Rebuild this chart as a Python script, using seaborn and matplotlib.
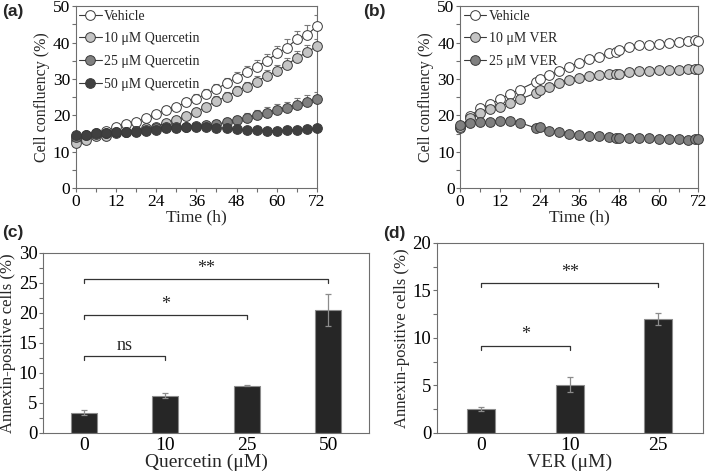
import numpy as np
import pandas as pd
import matplotlib
matplotlib.use("Agg")
import matplotlib.pyplot as plt
from matplotlib.ticker import MultipleLocator
import seaborn as sns

sns.set_style("ticks")
plt.rcParams['font.family'] = ['Liberation Serif', 'DejaVu Serif']
plt.rcParams['axes.edgecolor'] = '#6e6e6e'
plt.rcParams['xtick.color'] = '#6e6e6e'
plt.rcParams['ytick.color'] = '#6e6e6e'
plt.rcParams['xtick.labelcolor'] = 'black'
plt.rcParams['ytick.labelcolor'] = 'black'

# panel (a): quercetin time course
time_a = [0, 3, 6, 9, 12, 15, 18, 21, 24, 27, 30, 33, 36, 39, 42, 45, 48, 51, 54, 57, 60, 63, 66, 69, 72]
veh_a = [13.3, 14.2, 15.1, 15.7, 16.8, 17.5, 18.3, 19.2, 20.3, 21.6, 22.2, 23.8, 24.6, 26.0, 27.3, 28.8,
         30.4, 31.8, 33.4, 35.0, 37.0, 38.6, 40.9, 42.1, 44.5]
q10_a = [12.5, 13.3, 14.2, 14.4, 15.1, 15.3, 15.7, 16.5, 16.9, 18.0, 18.7, 19.7, 21.0, 22.4, 24.0, 25.1,
         26.8, 27.9, 29.3, 30.8, 32.2, 33.9, 35.8, 37.3, 39.0]
q25_a = [14.0, 14.6, 14.9, 15.1, 15.3, 15.4, 15.7, 16.0, 16.5, 16.7, 16.9, 16.9, 17.2, 17.4, 17.6, 18.1,
         18.7, 19.3, 20.1, 20.7, 21.5, 22.1, 22.9, 23.6, 24.4]
q50_a = [14.5, 14.7, 15.1, 15.1, 15.3, 15.3, 15.4, 15.7, 16.0, 16.5, 16.5, 16.7, 16.7, 16.7, 16.6, 16.5,
         16.2, 15.9, 15.9, 15.8, 15.8, 15.9, 16.0, 16.2, 16.4]
veh_a_err = [0.3, 0.3, 0.4, 0.4, 0.5, 0.5, 0.6, 0.7, 0.8, 0.9, 1.0, 1.1, 1.2, 1.3, 1.4, 1.5,
             1.6, 1.7, 1.8, 1.9, 2.1, 2.3, 2.4, 2.8, 3.0]
q10_a_err = [0.3, 0.3, 0.3, 0.4, 0.4, 0.4, 0.5, 0.5, 0.6, 0.7, 0.8, 0.9, 1.0, 1.1, 1.2, 1.3,
             1.4, 1.4, 1.5, 1.6, 1.7, 1.8, 1.9, 2.0, 2.1]
q25_a_err = [0.2, 0.2, 0.3, 0.3, 0.3, 0.3, 0.4, 0.4, 0.5, 0.5, 0.6, 0.7, 0.8, 0.9, 1.0, 1.1,
             1.2, 1.3, 1.4, 1.5, 1.6, 1.7, 1.8, 1.9, 2.0]
q50_a_err = [0.2, 0.2, 0.2, 0.2, 0.2, 0.2, 0.2, 0.2, 0.2, 0.2, 0.2, 0.2, 0.2, 0.2, 0.2, 0.2,
             0.2, 0.2, 0.2, 0.2, 0.2, 0.2, 0.2, 0.2, 0.2]
labels_a = ['Vehicle', '10 \u03bcM Quercetin', '25 \u03bcM Quercetin', '50 \u03bcM Quercetin']

# panel (b): VER time course
time_b = [0, 3, 6, 9, 12, 15, 18, 23, 24, 27, 30, 33, 36, 39, 42, 45, 47, 48, 51, 54, 57, 60, 63, 66, 69, 71, 72]
veh_b = [16.5, 19.7, 21.9, 23.1, 24.4, 25.9, 27.1, 29.3, 29.9, 31.0, 32.3, 33.4, 34.5, 35.4, 36.1, 37.0,
         37.4, 37.9, 38.8, 39.3, 39.4, 39.7, 40.0, 40.2, 40.5, 40.7, 40.4]
v10_b = [16.9, 19.2, 20.7, 21.7, 22.4, 23.5, 24.4, 26.2, 27.0, 27.7, 28.8, 29.7, 30.3, 30.8, 31.1, 31.4,
         31.5, 31.5, 32.0, 32.1, 32.2, 32.4, 32.4, 32.6, 32.8, 32.8, 32.8]
v25_b = [17.4, 17.8, 18.1, 18.3, 18.5, 18.5, 18.0, 16.5, 16.7, 15.8, 15.4, 14.9, 14.6, 14.4, 14.2, 14.0,
         13.9, 13.9, 13.9, 13.8, 13.7, 13.5, 13.4, 13.4, 13.3, 13.4, 13.4]
labels_b = ['Vehicle', '10 \u03bcM VER', '25 \u03bcM VER']

# panel (c): annexin, quercetin
dose_c = ['0', '10', '25', '50']
annex_c = [3.4, 6.2, 7.9, 20.5]
annex_c_err = [0.4, 0.45, 0.15, 2.7]
sig_c = [(0, 1, 12.8, 'ns'), (0, 2, 19.6, '*'), (0, 3, 25.7, '**')]

# panel (d): annexin, VER
dose_d = ['0', '10', '25']
annex_d = [2.5, 5.1, 12.0]
annex_d_err = [0.2, 0.8, 0.65]
sig_d = [(0, 1, 9.2, '*'), (0, 2, 15.8, '**')]

face_colors = ['white', '#c4c4c4', '#808080', '#404040']
edge_col = '#3a3a3a'
line_col = '#3a3a3a'

fig = plt.figure(figsize=(7.09, 4.74), dpi=100)
ax_a = fig.add_axes([0.107, 0.603, 0.340, 0.384])
ax_b = fig.add_axes([0.649, 0.603, 0.336, 0.384])
ax_c = fig.add_axes([0.0607, 0.0865, 0.460, 0.380])
ax_d = fig.add_axes([0.616, 0.0865, 0.375, 0.401])


def time_panel(ax, t, series, errs, labels):
    for vals, err in zip(series, errs):
        if err is not None:
            ax.errorbar(t, vals, yerr=[np.zeros(len(err)), err], fmt='none', ecolor='#7a7a7a',
                        elinewidth=0.8, capsize=2, capthick=0.8, zorder=1)
    for vals, fc, lab in zip(series, face_colors, labels):
        sns.lineplot(x=t, y=vals, ax=ax, color=line_col, linewidth=0.8, marker='o', markersize=7,
                     markerfacecolor=fc, markeredgecolor=edge_col, markeredgewidth=0.7,
                     errorbar=None, label=lab, zorder=3, clip_on=False)
    ax.set_xlim(0, 72)
    ax.set_ylim(0, 50)
    ax.xaxis.set_major_locator(MultipleLocator(12))
    ax.xaxis.set_minor_locator(MultipleLocator(6))
    ax.yaxis.set_major_locator(MultipleLocator(10))
    ax.yaxis.set_minor_locator(MultipleLocator(5))
    ax.tick_params(which='both', direction='out', length=3, width=0.8, labelsize=12.5, pad=1)
    ax.set_xlabel('Time (h)', fontsize=12.5, labelpad=0)
    ax.set_ylabel('Cell confluency (%)', fontsize=11.5, labelpad=2)
    ax.legend(loc='upper left', frameon=False, fontsize=10, handlelength=1.6, handletextpad=0.2,
              labelspacing=0.7, borderaxespad=0.15, borderpad=0.1)


def bar_panel(ax, doses, vals, errs, sigs, ymax, xlabel):
    sns.barplot(x=doses, y=vals, ax=ax, color='#262626', edgecolor='#8c8c8c', linewidth=0.8,
                width=0.32, saturation=1)
    ax.errorbar(range(len(doses)), vals, yerr=errs, fmt='none', ecolor='#8c8c8c', elinewidth=0.9,
                capsize=2.5, capthick=0.9)
    for x0, x1, h, txt in sigs:
        d = ymax * 0.022
        ax.plot([x0, x0, x1, x1], [h - d, h, h, h - d], color='#333333', lw=0.9)
        ax.text((x0 + x1) / 2, h + ymax * 0.012, txt, ha='center', va='bottom', fontsize=13)
    ax.set_xlim(-0.5, len(doses) - 0.5)
    ax.set_ylim(0, ymax)
    ax.yaxis.set_major_locator(MultipleLocator(5))
    ax.yaxis.set_minor_locator(MultipleLocator(2.5))
    ax.tick_params(axis='y', which='both', direction='out', length=3, width=0.8, labelsize=13.5, pad=1)
    ax.tick_params(axis='x', length=0, labelsize=14, pad=3)
    ax.set_xlabel(xlabel, fontsize=14, labelpad=0)
    ax.set_ylabel('Annexin-positive cells (%)', fontsize=12, labelpad=2)


time_panel(ax_a, time_a, [veh_a, q10_a, q25_a, q50_a], [veh_a_err, q10_a_err, q25_a_err, q50_a_err], labels_a)
time_panel(ax_b, time_b, [veh_b, v10_b, v25_b], [None, None, None], labels_b)
bar_panel(ax_c, dose_c, annex_c, annex_c_err, sig_c, 30, 'Quercetin (\u03bcM)')
bar_panel(ax_d, dose_d, annex_d, annex_d_err, sig_d, 20, 'VER (\u03bcM)')

for ax in [ax_a, ax_b, ax_c, ax_d]:
    for sp in ax.spines.values():
        sp.set_visible(True)
        sp.set_linewidth(0.8)

for lab, x, y in [('(a)', 0.003, 0.975), ('(b)', 0.512, 0.975), ('(c)', 0.003, 0.51), ('(d)', 0.54, 0.508)]:
    fig.text(x, y, lab, fontsize=12.5, fontweight='bold', family='Liberation Sans', va='center')

fig.savefig('out.png', dpi=100)
